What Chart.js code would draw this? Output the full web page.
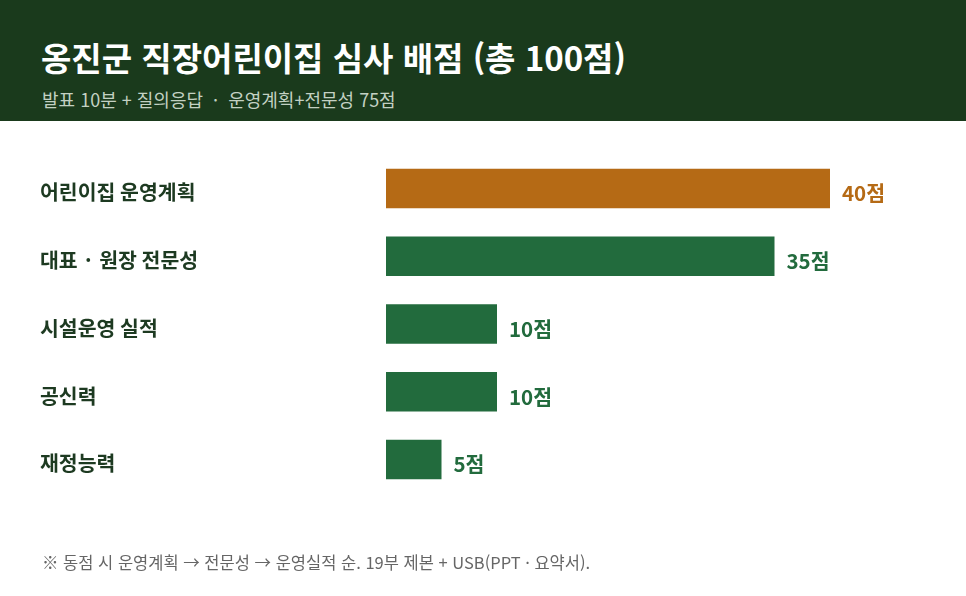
<!DOCTYPE html>
<html lang="ko">
<head>
<meta charset="utf-8">
<script src="https://cdn.jsdelivr.net/npm/chart.js@4.4.1/dist/chart.umd.min.js"></script>
<style>
  html, body { margin:0; padding:0; width:966px; height:596px; overflow:hidden; background:#ffffff; font-family:"Noto Sans CJK KR","Noto Sans",sans-serif; }
  #header { position:absolute; left:0; top:0; width:966px; height:121px; background:#1a3a1c; z-index:2; }
  #title { position:absolute; left:41px; top:35px; font-size:33px; font-weight:700; color:#ffffff; line-height:44px; white-space:nowrap; }
  #subtitle { position:absolute; left:42px; top:87px; font-size:18px; font-weight:400; color:#c3d1c3; line-height:24px; white-space:nowrap; }
  #wrap { position:absolute; left:0; top:0; width:966px; height:596px; z-index:1; }
  #foot { position:absolute; left:42px; top:550px; font-size:16.5px; color:#666666; line-height:24px; white-space:nowrap; z-index:2; }
</style>
</head>
<body>
<div id="header">
  <div id="title">옹진군 직장어린이집 심사 배점 (총 100점)</div>
  <div id="subtitle">발표 10분 + 질의응답 &nbsp;·&nbsp; 운영계획+전문성 75점</div>
</div>
<div id="wrap"><canvas id="c"></canvas></div>
<div id="foot">※ 동점 시 운영계획 → 전문성 → 운영실적 순. 19부 제본 + USB(PPT · 요약서).</div>
<script>
const categories = ['어린이집 운영계획', '대표 · 원장 전문성', '시설운영 실적', '공신력', '재정능력'];
const scores = [40, 35, 10, 10, 5];
const valueLabels = ['40점', '35점', '10점', '10점', '5점'];
const highlightIndex = 0;

const ORANGE = '#b56a15';
const GREEN = '#226b3d';
const LABEL = '#1d3a21';

const barColors = scores.map((v, i) => i === highlightIndex ? ORANGE : GREEN);

const valueLabelPlugin = {
  id: 'valueLabels',
  afterDatasetsDraw(chart) {
    const ctx = chart.ctx;
    const meta = chart.getDatasetMeta(0);
    ctx.save();
    ctx.font = '700 20.5px "Noto Sans CJK KR", "Noto Sans", sans-serif';
    ctx.textAlign = 'left';
    ctx.textBaseline = 'middle';
    meta.data.forEach((bar, i) => {
      ctx.fillStyle = i === highlightIndex ? ORANGE : GREEN;
      ctx.fillText(valueLabels[i], bar.x + 12, bar.y + 5);
    });
    ctx.restore();
  }
};

new Chart(document.getElementById('c'), {
  type: 'bar',
  data: {
    labels: categories,
    datasets: [{
      data: scores,
      backgroundColor: barColors,
      borderWidth: 0,
      categoryPercentage: 1,
      barPercentage: 0.585
    }]
  },
  options: {
    indexAxis: 'y',
    responsive: true,
    maintainAspectRatio: false,
    animation: false,
    layout: { padding: { top: 154.6, bottom: 102.6, left: 40, right: 136 } },
    scales: {
      x: { display: false, min: 0, max: 40 },
      y: {
        grid: { display: false },
        border: { display: false },
        ticks: {
          crossAlign: 'far',
          padding: 0,
          labelOffset: 4,
          color: LABEL,
          font: { family: '"Noto Sans CJK KR", "Noto Sans", sans-serif', size: 20.5, weight: '700' }
        },
        afterFit(scale) { scale.width = 346; }
      }
    },
    plugins: { legend: { display: false }, tooltip: { enabled: false } }
  },
  plugins: [valueLabelPlugin]
});
</script>
</body>
</html>
